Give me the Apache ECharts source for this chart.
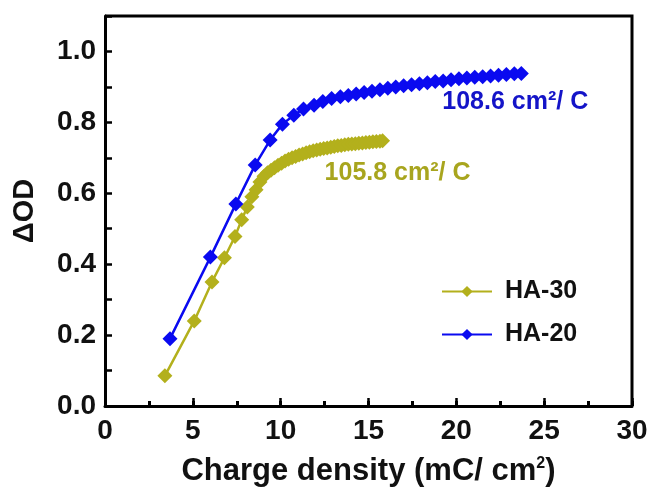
<!DOCTYPE html>
<html><head><meta charset="utf-8">
<script src="https://cdn.jsdelivr.net/npm/echarts@6/dist/echarts.min.js"></script>
<style>html,body{margin:0;padding:0;background:#fff}#c{width:652px;height:488px}</style>
</head><body><div id="c"></div>
<script>
// HA-20 (blue)
const ha20X = [3.7, 6.0, 7.45, 8.55, 9.4, 10.1, 10.75, 11.3, 11.9, 12.4, 12.9, 13.4, 13.85, 14.3, 14.75, 15.2, 15.65, 16.1, 16.55, 17.0, 17.45, 17.9, 18.35, 18.8, 19.25, 19.7, 20.15, 20.6, 21.05, 21.5, 21.95, 22.4, 22.85, 23.3, 23.7];
const ha20Y = [0.19, 0.42, 0.57, 0.68, 0.75, 0.795, 0.82, 0.838, 0.848, 0.859, 0.867, 0.872, 0.876, 0.880, 0.884, 0.888, 0.892, 0.896, 0.900, 0.903, 0.906, 0.909, 0.912, 0.915, 0.917, 0.920, 0.923, 0.925, 0.927, 0.929, 0.931, 0.933, 0.935, 0.937, 0.938];
// HA-30 (olive)
const ha30X = [3.41, 5.08, 6.09, 6.8, 7.4, 7.78, 8.1, 8.36, 8.6, 8.82, 9.05, 9.25, 9.45, 9.65, 9.85, 10.05, 10.25, 10.45, 10.65, 10.85, 11.05, 11.25, 11.45, 11.65, 11.85, 12.05, 12.25, 12.45, 12.65, 12.85, 13.05, 13.25, 13.45, 13.65, 13.85, 14.05, 14.25, 14.45, 14.65, 14.85, 15.05, 15.25, 15.45, 15.65, 15.8];
const ha30Y = [0.085, 0.24, 0.35, 0.418, 0.478, 0.525, 0.561, 0.59, 0.61, 0.632, 0.648, 0.658, 0.665, 0.672, 0.679, 0.685, 0.691, 0.696, 0.700, 0.704, 0.708, 0.711, 0.714, 0.717, 0.720, 0.722, 0.724, 0.726, 0.728, 0.730, 0.732, 0.734, 0.735, 0.737, 0.738, 0.739, 0.740, 0.741, 0.742, 0.743, 0.744, 0.745, 0.746, 0.747, 0.748];
const xTicks = [0, 5, 10, 15, 20, 25, 30];
const yTicks = [0.0, 0.2, 0.4, 0.6, 0.8, 1.0];
const seriesNames = ['HA-30', 'HA-20'];
const annotations = ['105.8 cm²/ C', '108.6 cm²/ C'];

const BLUE = '#0a0af0', OLIVE = '#b3b01c';
const pair = (xs, ys) => xs.map((x, i) => [x, ys[i]]);
const FONT = 'Liberation Sans';
const chart = echarts.init(document.getElementById('c'), null, {renderer: 'canvas'});
chart.setOption({
  animation: false,
  grid: {left: 105, right: 20, top: 16, bottom: 82, containLabel: false, outerBoundsMode: 'none'},
  legend: {
    data: seriesNames, orient: 'vertical', left: 436, top: 274, itemGap: 18,
    itemWidth: 50, itemHeight: 14,
    textStyle: {fontFamily: FONT, fontWeight: 'bold', fontSize: 25, color: '#111', padding: [0,0,0,8]}
  },
  xAxis: [{
    type: 'value', min: 0, max: 30, interval: 5,
    name: 'Charge density (mC/ cm{s|2})', nameLocation: 'middle', nameGap: 50,
    nameTextStyle: {fontFamily: FONT, fontWeight: 'bold', fontSize: 31, color: '#111',
      rich: {s: {fontFamily: FONT, fontWeight: 'bold', fontSize: 16, verticalAlign: 'top', padding:[0,0,15,0], color:'#111'}}},
    axisLine: {show: true, lineStyle: {color: '#000', width: 3}},
    axisTick: {inside: true, length: 8, lineStyle: {width: 2.5, color: '#000'}},
    axisLabel: {fontFamily: FONT, fontWeight: 'bold', fontSize: 28, color: '#111', margin: 11,
      formatter: v => xTicks.includes(v) ? String(v) : ''},
    splitLine: {show: false}
  }, {
    type: 'value', min: 0, max: 30, interval: 2.5, position: 'bottom', gridIndex: 0,
    axisLine: {show: false}, axisLabel: {show: false}, splitLine: {show: false},
    axisTick: {inside: true, length: 5, lineStyle: {width: 3, color: '#000'}}
  }],
  yAxis: {
    type: 'value', min: 0, max: 1.1, interval: 0.1,
    name: 'ΔOD', nameLocation: 'middle', nameGap: 66, nameRotate: 90,
    nameTextStyle: {fontFamily: FONT, fontWeight: 'bold', fontSize: 29, color: '#111'},
    axisLine: {show: true, lineStyle: {color: '#000', width: 3}},
    axisTick: {inside: true, length: 7, lineStyle: {width: 2.5, color: '#000'}},
    axisLabel: {fontFamily: FONT, fontWeight: 'bold', fontSize: 28, color: '#111', margin: 9,
      formatter: v => { const r = Math.round(v*10); return (r % 2 === 0 && r <= 10) ? (r/10).toFixed(1) : ''; }},
    splitLine: {show: false}
  },
  series: [
    {name: seriesNames[0], type: 'line', data: pair(ha30X, ha30Y), symbol: 'diamond', symbolSize: 15,
      itemStyle: {color: OLIVE}, lineStyle: {color: OLIVE, width: 2.5}, z: 2},
    {name: seriesNames[1], type: 'line', data: pair(ha20X, ha20Y), symbol: 'diamond', symbolSize: 15,
      itemStyle: {color: BLUE}, lineStyle: {color: BLUE, width: 2.5}, z: 3}
  ]
});
function addExtras() {
  const tl = chart.convertToPixel({gridIndex: 0}, [0, 1.1]);
  const br = chart.convertToPixel({gridIndex: 0}, [30, 0]);
  const a1 = chart.convertToPixel({gridIndex: 0}, [12.5, 0.656]);
  const a2 = chart.convertToPixel({gridIndex: 0}, [19.2, 0.856]);
  chart.setOption({graphic: [
    {type: 'polyline', shape: {points: [[tl[0], tl[1]], [br[0], tl[1]], [br[0], br[1]]]}, style: {stroke: '#000', lineWidth: 3, fill: null}, z: 10},
    {type: 'text', x: a1[0], y: a1[1], style: {text: annotations[0], fill: '#a8a51e', font: 'bold 25px "Liberation Sans"', textAlign: 'left', textVerticalAlign: 'middle'}},
    {type: 'text', x: a2[0], y: a2[1], style: {text: annotations[1], fill: '#1414c8', font: 'bold 25px "Liberation Sans"', textAlign: 'left', textVerticalAlign: 'middle'}}
  ]});
}
addExtras();
</script></body></html>
